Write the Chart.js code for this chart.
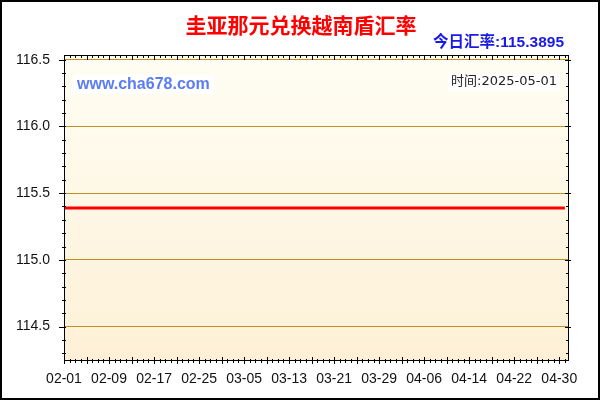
<!DOCTYPE html>
<html lang="zh">
<head>
    <meta charset="UTF-8">
    <title>圭亚那元兑换越南盾汇率</title>
    <script src="https://cdn.jsdelivr.net/npm/chart.js@4.4.0/dist/chart.umd.min.js"></script>
    <style>
        html, body { margin: 0; padding: 0; background: #ffffff; }
        #wrap { width: 600px; height: 400px; }
    </style>
</head>
<body>
<div id="wrap"><canvas id="rateChart" width="600" height="400"></canvas></div>
<script>
// dates on the x axis (2025)
const dates = [
    '02-01','02-02','02-03','02-04','02-05','02-06','02-07','02-08','02-09','02-10',
    '02-11','02-12','02-13','02-14','02-15','02-16','02-17','02-18','02-19','02-20',
    '02-21','02-22','02-23','02-24','02-25','02-26','02-27','02-28',
    '03-01','03-02','03-03','03-04','03-05','03-06','03-07','03-08','03-09','03-10',
    '03-11','03-12','03-13','03-14','03-15','03-16','03-17','03-18','03-19','03-20',
    '03-21','03-22','03-23','03-24','03-25','03-26','03-27','03-28','03-29','03-30','03-31',
    '04-01','04-02','04-03','04-04','04-05','04-06','04-07','04-08','04-09','04-10',
    '04-11','04-12','04-13','04-14','04-15','04-16','04-17','04-18','04-19','04-20',
    '04-21','04-22','04-23','04-24','04-25','04-26','04-27','04-28','04-29','04-30',
    '05-01'
];
// GYD -> VND rate, flat over the whole period
const rates = [
    115.3895,115.3895,115.3895,115.3895,115.3895,115.3895,115.3895,115.3895,115.3895,115.3895,
    115.3895,115.3895,115.3895,115.3895,115.3895,115.3895,115.3895,115.3895,115.3895,115.3895,
    115.3895,115.3895,115.3895,115.3895,115.3895,115.3895,115.3895,115.3895,
    115.3895,115.3895,115.3895,115.3895,115.3895,115.3895,115.3895,115.3895,115.3895,115.3895,
    115.3895,115.3895,115.3895,115.3895,115.3895,115.3895,115.3895,115.3895,115.3895,115.3895,
    115.3895,115.3895,115.3895,115.3895,115.3895,115.3895,115.3895,115.3895,115.3895,115.3895,115.3895,
    115.3895,115.3895,115.3895,115.3895,115.3895,115.3895,115.3895,115.3895,115.3895,115.3895,
    115.3895,115.3895,115.3895,115.3895,115.3895,115.3895,115.3895,115.3895,115.3895,115.3895,
    115.3895,115.3895,115.3895,115.3895,115.3895,115.3895,115.3895,115.3895,115.3895,115.3895,
    115.3895
];
const yTicks = [114.5, 115.0, 115.5, 116.0, 116.5];
const yMin = 114.25;
const yMax = 116.535;
const xMax = 89.55;

const titleText = '圭亚那元兑换越南盾汇率';
const todayText = '今日汇率:115.3895';
const siteText = 'www.cha678.com';
const dateText = '时间:2025-05-01';

const labelFont = "Arial, 'Liberation Sans', sans-serif";

// background, frame, minor ticks and the texts round the plot
const decor = {
    id: 'decor',
    beforeDraw(chart) {
        const { ctx, chartArea: a } = chart;
        ctx.save();
        ctx.fillStyle = '#ffffff';
        ctx.fillRect(0, 0, chart.width, chart.height);
        const g = ctx.createLinearGradient(0, a.top, 0, a.bottom);
        g.addColorStop(0, '#fffef4');
        g.addColorStop(1, '#fdf0d6');
        ctx.fillStyle = g;
        ctx.fillRect(a.left, a.top, a.right - a.left, a.bottom - a.top);
        ctx.restore();
    },
    afterDraw(chart) {
        const { ctx, chartArea: a } = chart;
        const x = chart.scales.x, y = chart.scales.y;
        ctx.save();

        // plot frame
        ctx.strokeStyle = '#000000';
        ctx.lineWidth = 1;
        ctx.strokeRect(Math.round(a.left) + 0.5, Math.round(a.top) + 0.5,
            Math.round(a.right - a.left), Math.round(a.bottom - a.top));

        // x ticks, one per day, longer every 4 days
        ctx.beginPath();
        for (let i = 0; i < dates.length; i++) {
            const px = Math.round(x.getPixelForValue(i)) + 0.5;
            const major = i % 4 === 0;
            ctx.moveTo(px, a.bottom - (major ? 3 : 1));
            ctx.lineTo(px, a.bottom + (major ? 4 : 3));
            ctx.moveTo(px, a.top);
            ctx.lineTo(px, a.top + (major ? 5 : 3));
        }
        // y ticks every 0.1
        for (let k = 0; k <= 22; k++) {
            const v = 114.3 + k * 0.1;
            const py = Math.round(y.getPixelForValue(v)) + 0.5;
            const major = Math.abs(v * 2 - Math.round(v * 2)) < 1e-6;
            ctx.moveTo(a.left - (major ? 5 : 2), py);
            ctx.lineTo(a.left + 2, py);
            ctx.moveTo(a.right - (major ? 3 : 2), py);
            ctx.lineTo(a.right + (major ? 3 : 0), py);
        }
        ctx.stroke();

        // title
        ctx.fillStyle = '#ff0000';
        ctx.font = "bold 21px 'Noto Sans CJK SC', sans-serif";
        ctx.textAlign = 'center';
        ctx.textBaseline = 'middle';
        ctx.fillText(titleText, 301, 25);

        // today's rate
        ctx.fillStyle = '#1a1ae6';
        ctx.font = "bold 15.5px Arial, 'Noto Sans CJK SC', sans-serif";
        ctx.textAlign = 'right';
        ctx.fillText(todayText, 564, 42.5);

        // site name with white box
        ctx.fillStyle = '#ffffff';
        ctx.fillRect(73, 75, 141, 19);
        ctx.fillStyle = '#5b7cf2';
        ctx.font = 'bold 16px Arial, sans-serif';
        ctx.textAlign = 'left';
        ctx.fillText(siteText, 77, 84.5);

        // date stamp with white box
        ctx.font = "13px 'DejaVu Sans', 'Noto Sans CJK SC', sans-serif";
        const w = ctx.measureText(dateText).width;
        ctx.fillStyle = '#ffffff';
        ctx.fillRect(557 - w - 3, 74, w + 6, 17);
        ctx.fillStyle = '#222222';
        ctx.textAlign = 'right';
        ctx.fillText(dateText, 557, 82);

        // outer border
        ctx.strokeStyle = '#000000';
        ctx.lineWidth = 2;
        ctx.strokeRect(1, 1, chart.width - 2, chart.height - 2);
        ctx.restore();
    }
};

const ctx = document.getElementById('rateChart').getContext('2d');
new Chart(ctx, {
    type: 'line',
    data: {
        datasets: [{
            data: rates.map((v, i) => ({ x: i, y: v })),
            borderColor: '#ff0000',
            borderWidth: 3,
            pointRadius: 0,
            fill: false,
            tension: 0
        }]
    },
    options: {
        responsive: false,
        animation: false,
        events: [],
        layout: { padding: { left: 0, top: 55, right: 32, bottom: 0 } },
        plugins: {
            legend: { display: false },
            tooltip: { enabled: false },
            title: { display: false }
        },
        scales: {
            x: {
                type: 'linear',
                min: 0,
                max: xMax,
                grid: { display: false, drawTicks: false },
                border: { display: false },
                afterFit: s => { s.height = 40; },
                afterBuildTicks: s => {
                    s.ticks = dates.map((d, i) => ({ value: i })).filter(t => t.value % 8 === 0);
                },
                ticks: {
                    autoSkip: false,
                    maxRotation: 0,
                    minRotation: 0,
                    padding: 11,
                    color: '#111111',
                    font: { family: labelFont, size: 14 },
                    callback: v => dates[v]
                }
            },
            y: {
                min: yMin,
                max: yMax,
                afterFit: s => { s.width = 64; },
                afterBuildTicks: s => { s.ticks = yTicks.map(v => ({ value: v })); },
                grid: { color: '#c09020', lineWidth: 1, drawTicks: false },
                border: { display: false },
                ticks: {
                    padding: 14,
                    color: '#111111',
                    font: { family: labelFont, size: 14 },
                    callback: v => v.toFixed(1)
                }
            }
        }
    },
    plugins: [decor]
});
</script>
</body>
</html>
